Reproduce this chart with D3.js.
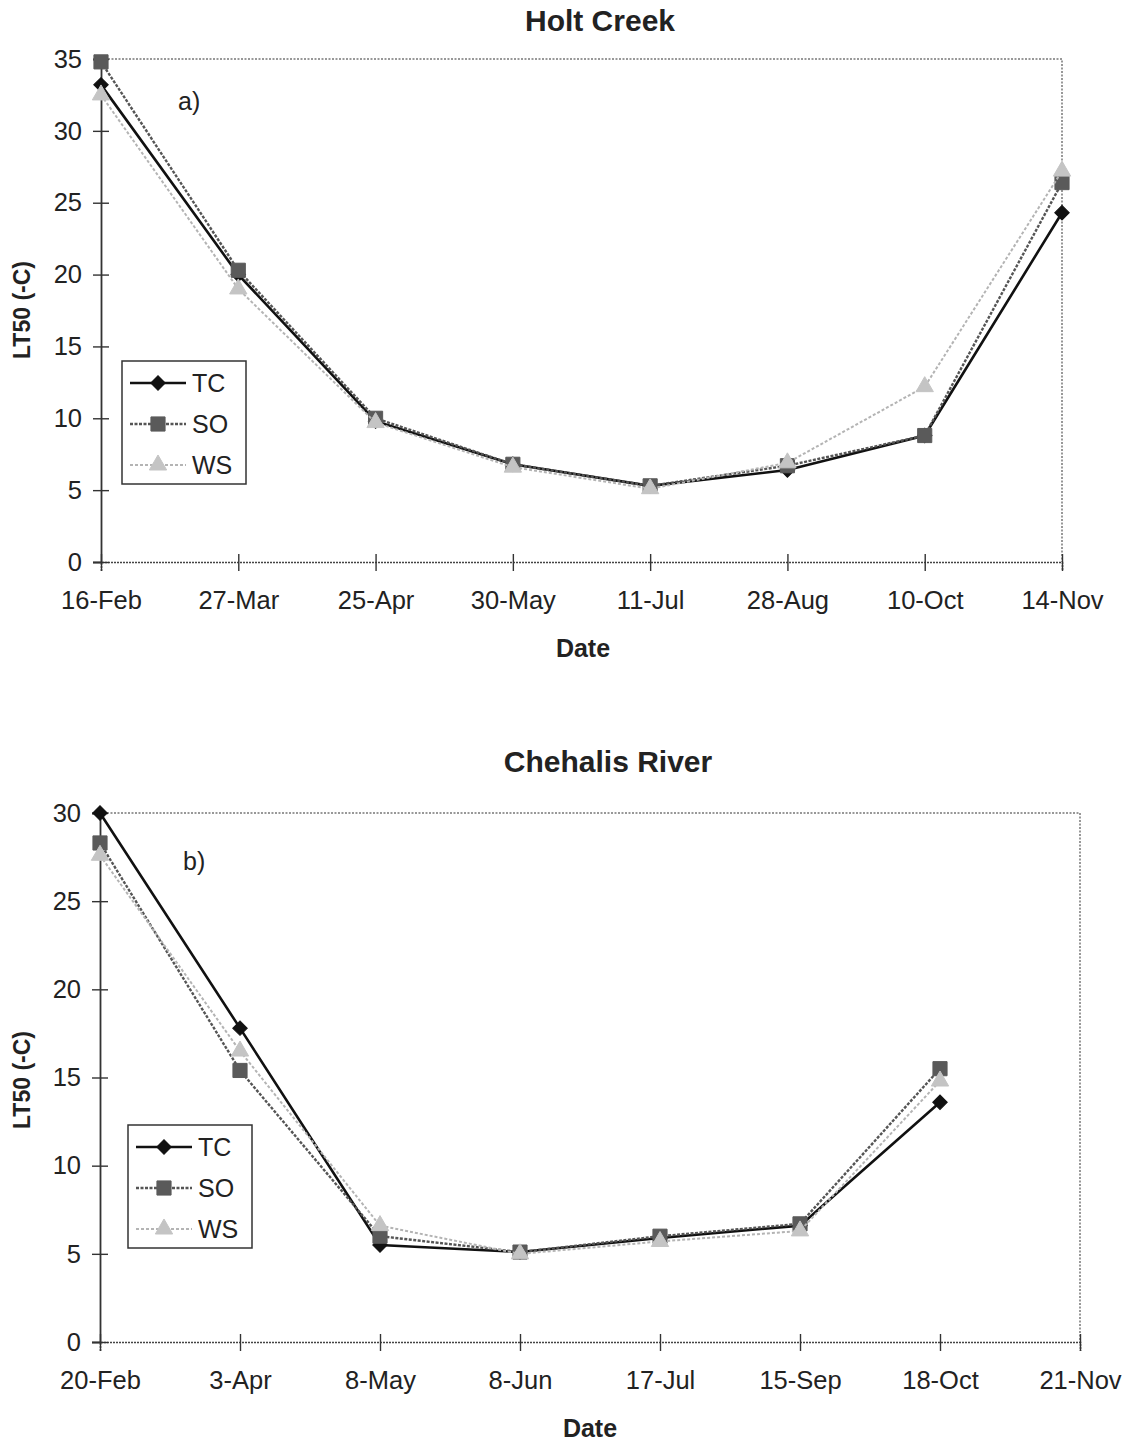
<!DOCTYPE html>
<html>
<head>
<meta charset="utf-8">
<script src="https://cdn.jsdelivr.net/npm/d3@7"></script>
<style>
  body { margin: 0; background: #fff; }
  text { font-family: "Liberation Sans", Arial, sans-serif; fill: #222; }
</style>
</head>
<body>
<div id="svgOutput"></div>
<script>
// Data

const seriesNames = ["TC", "SO", "WS"];

const holtDates = ["16-Feb", "27-Mar", "25-Apr", "30-May", "11-Jul", "28-Aug", "10-Oct", "14-Nov"];
const holtTC = [33.2, 20.0, 9.8, 6.8, 5.3, 6.4, 8.8, 24.3];
const holtSO = [34.8, 20.3, 10.0, 6.8, 5.3, 6.7, 8.8, 26.4];
const holtWS = [32.5, 19.0, 9.7, 6.6, 5.1, 6.9, 12.2, 27.2];
const holtTicks = [0, 5, 10, 15, 20, 25, 30, 35];

const chehalisDates = ["20-Feb", "3-Apr", "8-May", "8-Jun", "17-Jul", "15-Sep", "18-Oct", "21-Nov"];
const chehalisTC = [30.0, 17.8, 5.5, 5.1, 5.9, 6.6, 13.6, null];
const chehalisSO = [28.3, 15.4, 6.0, 5.1, 6.0, 6.7, 15.5, null];
const chehalisWS = [27.6, 16.5, 6.6, 5.0, 5.7, 6.3, 14.8, null];
const chehalisTicks = [0, 5, 10, 15, 20, 25, 30];

(function () {
  document.addEventListener('DOMContentLoaded', function () {

    // Config

    const width = 1138;
    const height = 1442;

    // TC diamond is a square turned by 45 degrees
    const styles = {
      "TC": { stroke: "#111", dash: null, width: 2.6, fill: "#111", symbol: d3.symbolSquare, size: 105, rot: 45 },
      "SO": { stroke: "#555", dash: "3,1.5", width: 2.4, fill: "#5a5a5a", symbol: d3.symbolSquare, size: 200, rot: 0 },
      "WS": { stroke: "#b4b4b4", dash: "3,2", width: 2, fill: "#c4c4c4", symbol: d3.symbolTriangle, size: 130, rot: 0 }
    };

    const svg = d3.select("#svgOutput")
      .append("svg")
      .attr("width", width)
      .attr("height", height)
      .attr("viewBox", [0, 0, width, height]);

    function drawChart(cfg) {
      const g = svg.append("g");

      const xScale = d3.scalePoint()
        .domain(cfg.dates)
        .range([cfg.left, cfg.right])
        .padding(0);

      const yScale = d3.scaleLinear()
        .domain([0, cfg.yMax])
        .range([cfg.bottom, cfg.top]);

      // Frame (dotted top and right)

      g.append("path")
        .attr("d", `M${cfg.left},${cfg.top}H${cfg.right}V${cfg.bottom}`)
        .attr("fill", "none")
        .attr("stroke", "#777")
        .attr("stroke-width", 1.5)
        .attr("stroke-dasharray", "2,1.5");

      // Axes

      const xAxis = d3.axisBottom(xScale).tickSize(9).tickPadding(20);
      const yAxis = d3.axisLeft(yScale).tickValues(cfg.ticks).tickSize(8).tickPadding(11);

      const gx = g.append("g")
        .attr("class", "xAxis")
        .attr("transform", "translate(0, " + cfg.bottom + ")")
        .call(xAxis);

      gx.call(g => g.select(".domain").attr("stroke", "#444").attr("stroke-width", 1.6).attr("stroke-dasharray", "2,1"));
      gx.call(g => g.selectAll(".tick line").attr("y1", -8).attr("stroke", "#333").attr("stroke-width", 1.4));
      gx.call(g => g.selectAll(".tick text").attr("font-size", 25.5).attr("fill", "#222"));

      const gy = g.append("g")
        .attr("class", "yAxis")
        .attr("transform", "translate(" + cfg.left + ", 0)")
        .call(yAxis);

      gy.call(g => g.select(".domain").attr("stroke", "#333").attr("stroke-width", 1.8));
      gy.call(g => g.selectAll(".tick line").attr("x2", 8).attr("x1", -8).attr("stroke", "#333").attr("stroke-width", 1.4));
      gy.call(g => g.selectAll(".tick text").attr("font-size", 25.5).attr("fill", "#222"));

      // Titles

      g.append("text")
        .attr("x", cfg.titleX)
        .attr("y", cfg.titleY)
        .attr("text-anchor", "middle")
        .attr("font-size", 30)
        .attr("font-weight", "bold")
        .text(cfg.title);

      g.append("text")
        .attr("x", cfg.xLabelX)
        .attr("y", cfg.xLabelY)
        .attr("text-anchor", "middle")
        .attr("font-size", 25)
        .attr("font-weight", "bold")
        .text("Date");

      g.append("text")
        .attr("transform", `translate(${cfg.yLabelX},${cfg.yLabelY}) rotate(-90)`)
        .attr("text-anchor", "middle")
        .attr("font-size", 23)
        .attr("font-weight", "bold")
        .text("LT50 (-C)");

      g.append("text")
        .attr("x", cfg.tagX)
        .attr("y", cfg.tagY)
        .attr("font-size", 25)
        .text(cfg.tag);

      // Lines and markers

      const line = d3.line()
        .defined(d => d.value !== null)
        .x(d => xScale(d.date))
        .y(d => yScale(d.value));

      seriesNames.forEach((name, i) => {
        const st = styles[name];
        const data = cfg.dates.map((date, j) => ({ date: date, value: cfg.values[i][j] }));

        g.append("path")
          .datum(data)
          .attr("fill", "none")
          .attr("stroke", st.stroke)
          .attr("stroke-width", st.width)
          .attr("stroke-dasharray", st.dash)
          .attr("d", line);

        g.selectAll("path.mark-" + name)
          .data(data.filter(d => d.value !== null))
          .join("path")
          .attr("class", "mark-" + name)
          .attr("d", d3.symbol().type(st.symbol).size(st.size))
          .attr("transform", d => `translate(${xScale(d.date)},${yScale(d.value)}) rotate(${st.rot})`)
          .attr("fill", st.fill)
          .attr("stroke", st.fill)
          .attr("stroke-width", 1);
      });

      // Legend

      const lg = g.append("g")
        .attr("transform", `translate(${cfg.legendX},${cfg.legendY})`);

      lg.append("rect")
        .attr("width", 124)
        .attr("height", 123)
        .attr("fill", "#fff")
        .attr("stroke", "#333")
        .attr("stroke-width", 1.5);

      seriesNames.forEach((name, i) => {
        const st = styles[name];
        const yy = 22 + i * 41;

        lg.append("line")
          .attr("x1", 8).attr("x2", 64)
          .attr("y1", yy).attr("y2", yy)
          .attr("stroke", st.stroke)
          .attr("stroke-width", st.width)
          .attr("stroke-dasharray", st.dash);

        lg.append("path")
          .attr("d", d3.symbol().type(st.symbol).size(st.size)())
          .attr("transform", `translate(36,${yy}) rotate(${st.rot})`)
          .attr("fill", st.fill)
          .attr("stroke", st.fill);

        lg.append("text")
          .attr("x", 70)
          .attr("y", yy + 9)
          .attr("font-size", 25)
          .text(name);
      });
    }

    drawChart({
      title: "Holt Creek", titleX: 600, titleY: 31,
      tag: "a)", tagX: 178, tagY: 110,
      dates: holtDates, values: [holtTC, holtSO, holtWS], ticks: holtTicks, yMax: 35,
      left: 101, right: 1062, top: 59, bottom: 562,
      xLabelX: 583, xLabelY: 657,
      yLabelX: 30, yLabelY: 310,
      legendX: 122, legendY: 361
    });

    drawChart({
      title: "Chehalis River", titleX: 608, titleY: 772,
      tag: "b)", tagX: 183, tagY: 870,
      dates: chehalisDates, values: [chehalisTC, chehalisSO, chehalisWS], ticks: chehalisTicks, yMax: 30,
      left: 100, right: 1080, top: 813, bottom: 1342,
      xLabelX: 590, xLabelY: 1437,
      yLabelX: 30, yLabelY: 1080,
      legendX: 128, legendY: 1125
    });

  });
})();
</script>
</body>
</html>
